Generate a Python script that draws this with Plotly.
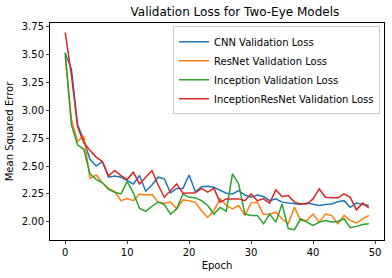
import plotly.graph_objects as go

epochs = list(range(50))

cnn_loss = [3.51, 3.37, 2.87, 2.73, 2.56, 2.50, 2.54, 2.40, 2.41, 2.40,
            2.37, 2.34, 2.415, 2.275, 2.33, 2.40, 2.385, 2.26, 2.30, 2.30,
            2.42, 2.27, 2.315, 2.32, 2.31, 2.28, 2.257, 2.25, 2.28, 2.24,
            2.22, 2.24, 2.227, 2.19, 2.206, 2.177, 2.17, 2.168, 2.155, 2.17,
            2.16, 2.147, 2.155, 2.16, 2.18, 2.19, 2.13, 2.168, 2.155, 2.147]

resnet_loss = [3.48, 2.92, 2.72, 2.77, 2.39, 2.42, 2.35, 2.30, 2.27, 2.19,
               2.21, 2.19, 2.25, 2.24, 2.245, 2.177, 2.168, 2.177, 2.117, 2.197,
               2.19, 2.175, 2.10, 2.04, 2.10, 2.206, 2.147, 2.117, 2.147, 2.058,
               2.168, 2.177, 2.066, 2.07, 2.087, 2.028, 1.983, 2.13, 2.013, 2.013,
               2.07, 1.998, 2.07, 2.058, 1.983, 2.058, 2.013, 1.99, 2.028, 2.058]

inception_loss = [3.516, 2.87, 2.69, 2.65, 2.43, 2.38, 2.35, 2.29, 2.266, 2.25,
                  2.36, 2.26, 2.12, 2.095, 2.14, 2.177, 2.155, 2.07, 2.117, 2.25,
                  2.22, 2.215, 2.19, 2.147, 2.07, 2.13, 2.096, 2.43, 2.34, 2.07,
                  2.058, 2.058, 1.983, 2.07, 1.998, 2.16, 1.94, 1.93, 2.028, 1.998,
                  1.968, 1.998, 2.013, 2.0, 2.004, 2.028, 1.948, 1.96, 1.977, 1.983]

incres_loss = [3.695, 3.32, 2.85, 2.71, 2.64, 2.58, 2.54, 2.41, 2.46, 2.415,
               2.38, 2.445, 2.34, 2.40, 2.46, 2.33, 2.22, 2.28, 2.34, 2.257,
               2.26, 2.26, 2.30, 2.266, 2.30, 2.177, 2.206, 2.206, 2.206, 2.19,
               2.25, 2.19, 2.206, 2.168, 2.287, 2.227, 2.236, 2.177, 2.16, 2.16,
               2.206, 2.295, 2.22, 2.215, 2.215, 2.25, 2.22, 2.108, 2.168, 2.126]

series = [
    ("CNN Validation Loss", cnn_loss, "#1f77b4"),
    ("ResNet Validation Loss", resnet_loss, "#ff7f0e"),
    ("Inception Validation Loss", inception_loss, "#2ca02c"),
    ("InceptionResNet Validation Loss", incres_loss, "#d62728"),
]

y_ticks = [2.00, 2.25, 2.50, 2.75, 3.00, 3.25, 3.50, 3.75]
x_ticks = [0, 10, 20, 30, 40, 50]

fig = go.Figure()
for name, vals, color in series:
    fig.add_trace(go.Scatter(x=epochs, y=vals, mode="lines", name=name,
                             line=dict(color=color, width=1.5)))

font = "DejaVu Sans, Verdana, sans-serif"
fig.update_layout(
    width=392, height=278,
    margin=dict(l=50, r=8, t=23, b=38, autoexpand=False),
    paper_bgcolor="white", plot_bgcolor="white",
    font=dict(family=font, size=10, color="#000000"),
    title=dict(text="Validation Loss for Two-Eye Models", x=0.5 + (50 - 8) / 2 / 392, xref="paper",
               xanchor="center", y=1 - 12 / 278, yanchor="middle",
               font=dict(size=12, color="#000000")),
    showlegend=True,
    legend=dict(x=0.988, y=0.985, xanchor="right", yanchor="top",
                bgcolor="rgba(255,255,255,0.8)", bordercolor="#cccccc", borderwidth=1,
                font=dict(size=10), tracegroupgap=0, itemwidth=30),
)
fig.update_xaxes(range=[-2.45, 51.45], tickvals=x_ticks, ticks="outside", ticklen=3,
                 showline=True, mirror=True, linecolor="black", linewidth=1,
                 showgrid=False, zeroline=False,
                 title=dict(text="Epoch", font=dict(size=10), standoff=4))
fig.update_yaxes(range=[1.838, 3.78], tickvals=y_ticks, tickformat=".2f",
                 ticks="outside", ticklen=3,
                 showline=True, mirror=True, linecolor="black", linewidth=1,
                 showgrid=False, zeroline=False,
                 title=dict(text="Mean Squared Error", font=dict(size=10), standoff=6))

fig.write_html("out.html", config={"displayModeBar": False},
               post_script="document.body.style.margin='0';document.body.style.padding='0';")
